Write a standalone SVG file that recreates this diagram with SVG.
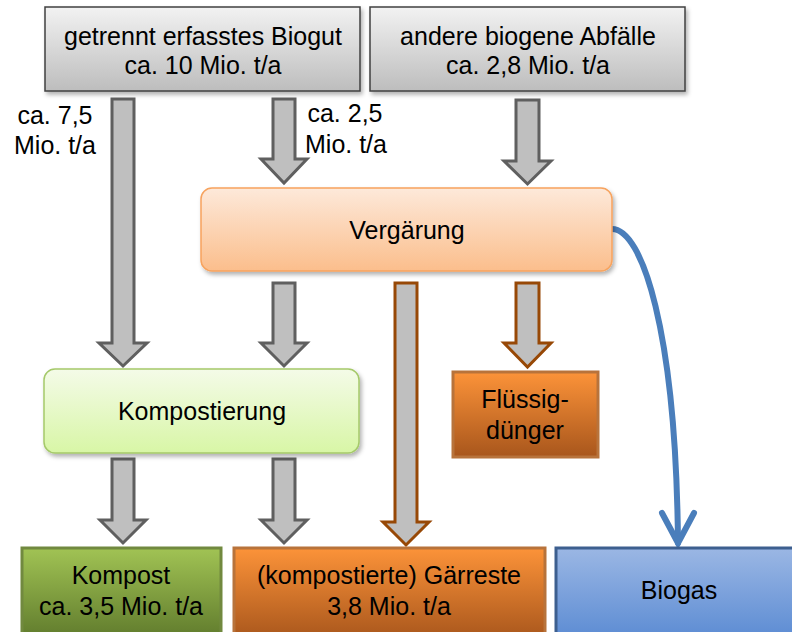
<svg xmlns="http://www.w3.org/2000/svg" width="792" height="632" viewBox="0 0 792 632">
<defs>
<linearGradient id="gGray" x1="0" y1="0" x2="0" y2="1"><stop offset="0" stop-color="#f2f2f2"/><stop offset="1" stop-color="#bdbdbd"/></linearGradient>
<linearGradient id="gVerg" x1="0" y1="0" x2="0" y2="1"><stop offset="0" stop-color="#fde9da"/><stop offset="1" stop-color="#fbbe8c"/></linearGradient>
<linearGradient id="gKomp" x1="0" y1="0" x2="0" y2="1"><stop offset="0" stop-color="#f4fbe8"/><stop offset="1" stop-color="#d8f6a6"/></linearGradient>
<linearGradient id="gOrange" x1="0" y1="0" x2="0" y2="1"><stop offset="0" stop-color="#fc9339"/><stop offset="1" stop-color="#a8561c"/></linearGradient>
<linearGradient id="gGreen" x1="0" y1="0" x2="0" y2="1"><stop offset="0" stop-color="#a1c354"/><stop offset="1" stop-color="#5f7a2c"/></linearGradient>
<linearGradient id="gBlue" x1="0" y1="0" x2="0" y2="1"><stop offset="0" stop-color="#9bb7e4"/><stop offset="1" stop-color="#5b8bd3"/></linearGradient>
<filter id="sh" x="-10%" y="-10%" width="125%" height="130%"><feDropShadow dx="2" dy="3" stdDeviation="2" flood-color="#000" flood-opacity="0.3"/></filter>
</defs>
<style>
text{font-family:"Liberation Sans",Arial,sans-serif;font-size:25px;fill:#000;text-anchor:middle}
.top{fill:url(#gGray);stroke:#404040;stroke-width:1.5}
.ga{fill:#bfbfbf;stroke:#5f5f5f;stroke-width:3;stroke-linejoin:miter}
.ba{fill:#bfbfbf;stroke:#974806;stroke-width:3;stroke-linejoin:miter}
</style>
<g id="connectors">
<polygon class="ga" points="112,99 134,99 134,343 147,343 123,366 99,343 112,343"/>
<polygon class="ga" points="273,99 295,99 295,159 307,159 284,183 261,159 273,159"/>
<polygon class="ga" points="516,100 539,100 539,161 551,161 527.5,184 504,161 516,161"/>
<polygon class="ga" points="273,283 295,283 295,343 307,343 284,366 261,343 273,343"/>
<polygon class="ba" points="395,283 417,283 417,522 429,522 406,545 383,522 395,522"/>
<polygon class="ba" points="516,283 539,283 539,343 551,343 527.5,367 504,343 516,343"/>
<polygon class="ga" points="112,459 134,459 134,520 146,520 123,543 100,520 112,520"/>
<polygon class="ga" points="273,459 295,459 295,520 307,520 284,543 261,520 273,520"/>
<path d="M612,229 C642,229 676,330 678,543" fill="none" stroke="#4a7ebb" stroke-width="6" stroke-linecap="round"/>
<polyline points="662,513 678,543 694,513" fill="none" stroke="#4a7ebb" stroke-width="6" stroke-linecap="round" stroke-linejoin="miter"/>
</g>
<g id="label-75"><text x="55" y="124">ca. 7,5</text><text x="55" y="154">Mio. t/a</text></g>
<g id="label-25"><text x="345" y="122">ca. 2,5</text><text x="346" y="153">Mio. t/a</text></g>
<g id="biogut"><rect class="top" x="45" y="7" width="315" height="84" filter="url(#sh)"/><text x="203" y="45">getrennt  erfasstes Biogut</text><text x="203" y="74">ca. 10 Mio. t/a</text></g>
<g id="abfaelle"><rect class="top" x="370" y="7" width="315" height="84" filter="url(#sh)"/><text x="528" y="45">andere biogene Abfälle</text><text x="528" y="74">ca. 2,8 Mio. t/a</text></g>
<g id="vergaerung"><rect x="201" y="188" width="411" height="83" rx="11" fill="url(#gVerg)" stroke="#f7a35e" stroke-width="1.5" filter="url(#sh)"/><text x="407" y="239">Vergärung</text></g>
<g id="kompostierung"><rect x="44" y="369" width="315" height="84" rx="11" fill="url(#gKomp)" stroke="#a5c96a" stroke-width="1.5" filter="url(#sh)"/><text x="202" y="420">Kompostierung</text></g>
<g id="fluessig"><rect x="453" y="372" width="145" height="85" fill="url(#gOrange)" stroke="#b8733b" stroke-width="3"/><text x="525" y="408">Flüssig-</text><text x="525" y="439">dünger</text></g>
<g id="kompost"><rect x="22" y="548" width="199" height="92" fill="url(#gGreen)" stroke="#71893f" stroke-width="3"/><text x="121" y="584">Kompost</text><text x="121" y="615">ca. 3,5 Mio. t/a</text></g>
<g id="gaerreste"><rect x="234" y="548" width="311" height="92" fill="url(#gOrange)" stroke="#b8733b" stroke-width="3"/><text x="389" y="584">(kompostierte) Gärreste</text><text x="389" y="615">3,8 Mio. t/a</text></g>
<g id="biogas"><rect x="556" y="548" width="246" height="92" fill="url(#gBlue)" stroke="#3d5f8f" stroke-width="3"/><text x="679" y="599">Biogas</text></g>
</svg>
